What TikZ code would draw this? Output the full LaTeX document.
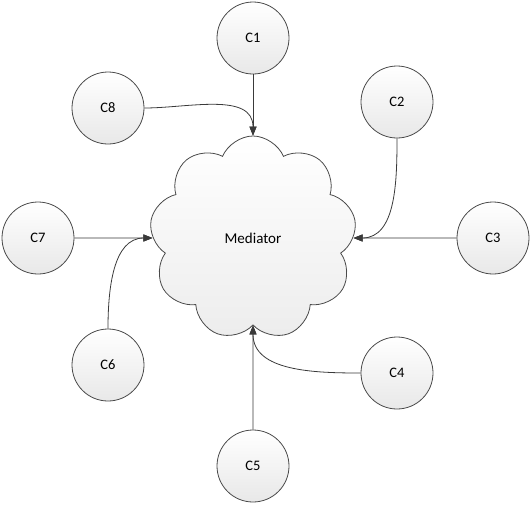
\documentclass[tikz,border=0pt]{standalone}
\usepackage{fontspec}
\setmainfont{Carlito}
\usepackage{tikz}
\usetikzlibrary{
  arrows.meta,
  shapes.symbols,
  shadows
}
\definecolor{medLine}{HTML}{4A4A4A}
\definecolor{medFill}{HTML}{E8E8E8}
\definecolor{medArrow}{HTML}{3A3A3A}
\tikzset{
  client/.style={
    draw=medLine, circle, minimum size=72pt, inner sep=0pt,
    top color=white, bottom color=medFill, line width=0.8pt,
    font=\fontsize{14.5}{16}\selectfont
  },
  mediator/.style={
    draw=medLine, cloud, cloud puffs=9, cloud puff arc=135, aspect=1,
    minimum width=207pt, minimum height=204pt, inner sep=0pt,
    shape border rotate=10,
    top color=white, bottom color=medFill!80, line width=0.8pt,
    font=\fontsize{15}{16}\selectfont
  },
  link/.style={-{Triangle[length=9pt, width=7pt]}, draw=medArrow, line width=0.8pt}
}

\begin{document}
\begin{tikzpicture}[x=1pt, y=-1pt]
  \useasboundingbox (0,0) rectangle (531,507);
  \node[mediator] (med) at (253,238) {Mediator};
  \foreach \name/\px/\py in {
    c1/253/38,
    c2/397/102,
    c3/493/238,
    c4/397/373,
    c5/253/466,
    c6/108/365,
    c7/38/238,
    c8/108/108}{
    \node[client] (\name) at (\px,\py) {\MakeUppercase{\name}};
  }
  \draw[link] (c1) -- (med);
  \draw[link] (c3) -- (med);
  \draw[link] (c5) -- (med);
  \draw[link] (c7) -- (med);
  \draw[link] (c8.east) to[out=0, in=90] (med);
  \draw[link] (c2.south) to[out=-90, in=0] (med);
  \draw[link] (c4.west) to[out=180, in=-90] (med);
  \draw[link] (c6.north) to[out=90, in=180] (med);
\end{tikzpicture}
\end{document}
